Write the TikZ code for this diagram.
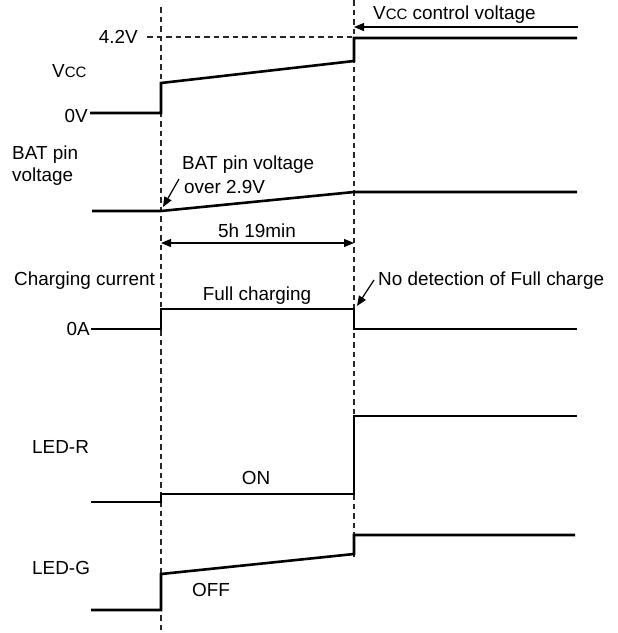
\documentclass[tikz,border=0pt]{standalone}
\usepackage{fontspec}
\setmainfont{Liberation Sans}
\usetikzlibrary{arrows.meta}
\begin{document}
\begin{tikzpicture}[x=1pt,y=-1pt,
  lbl/.style={inner sep=0pt, font=\fontsize{18.9}{22}\selectfont},
  wave/.style={line width=2.6pt, line join=miter, line cap=butt},
  guide/.style={line width=1.2pt, dash pattern=on 5.5pt off 4pt, black!85},
  callout/.style={line width=1.2pt, -{Triangle[length=10pt,width=8pt]}},
  dimline/.style={line width=1.2pt, {Triangle[length=10pt,width=8pt]}-{Triangle[length=10pt,width=8pt]}},
]
\newcommand{\sCC}{{\fontsize{15}{17}\selectfont CC}}
\useasboundingbox (0,0) rectangle (618,633);

% guide lines
\coordinate (g1t) at (161,7);
\coordinate (g1b) at (161,633);
\coordinate (g2t) at (354,0);
\coordinate (g2b) at (354,560);
\draw[guide] (g1t) -- (g1b);
\draw[guide] (g2t) -- (g2b);

% Vcc
\node[lbl, anchor=base east] (v42) at (138,43) {4.2V};
\coordinate (d42a) at (147,37);
\coordinate (d42b) at (354,37);
\draw[guide] (d42a) -- (d42b);
\node[lbl, anchor=base west] (vcc) at (52,77) {V\sCC};
\node[lbl, anchor=base east] (v0) at (88,122) {0V};
\coordinate (va) at (90,113);
\coordinate (vb) at (161,113);
\coordinate (vc) at (161,83);
\coordinate (vd) at (354,61);
\coordinate (ve) at (354,38);
\coordinate (vf) at (577,38);
\draw[wave] (va) -- (vb) -- (vc) -- (vd) -- (ve) -- (vf);
\node[lbl, anchor=base west] (vctl) at (373,19) {V\sCC{} control voltage};
\coordinate (vctla) at (578,27);
\coordinate (vctlb) at (354,27);
\draw[callout] (vctla) -- (vctlb);

% BAT pin voltage
\node[lbl, anchor=base west] (bat1) at (12,159) {BAT pin};
\node[lbl, anchor=base west] (bat2) at (12,181) {voltage};
\coordinate (ba) at (92,211);
\coordinate (bb) at (161,211);
\coordinate (bc) at (354,192);
\coordinate (bd) at (577,192);
\draw[wave] (ba) -- (bb) -- (bc) -- (bd);
\node[lbl, anchor=base west] (batn1) at (182,169) {BAT pin voltage};
\node[lbl, anchor=base west] (batn2) at (184,193) {over 2.9V};
\coordinate (bta) at (179,179);
\coordinate (btb) at (163,207);
\draw[callout] (bta) -- (btb);

% duration
\node[lbl, anchor=base] (dur) at (257,237) {5h 19min};
\coordinate (dma) at (161,243);
\coordinate (dmb) at (354,243);
\draw[dimline] (dma) -- (dmb);

% Charging current
\node[lbl, anchor=base west] (chg) at (14,285) {Charging current};
\node[lbl, anchor=base] (full) at (257,300) {Full charging};
\node[lbl, anchor=base west] (nodet) at (378,285) {No detection of Full charge};
\coordinate (nta) at (374,280);
\coordinate (ntb) at (357,306);
\draw[callout] (nta) -- (ntb);
\node[lbl, anchor=base east] (a0) at (90,335) {0A};
\coordinate (ca) at (91,329);
\coordinate (cb) at (161,329);
\coordinate (cc) at (161,309);
\coordinate (cd) at (354,309);
\coordinate (ce) at (354,329);
\coordinate (cf) at (577,329);
\draw[wave] (ca) -- (cb) -- (cc) -- (cd) -- (ce) -- (cf);

% LED-R
\node[lbl, anchor=base west] (ledr) at (32,453) {LED-R};
\node[lbl, anchor=base] (on) at (256,484) {ON};
\coordinate (ra) at (91,502);
\coordinate (rb) at (161,502);
\coordinate (rc) at (161,494);
\coordinate (rd) at (354,494);
\coordinate (re) at (354,416);
\coordinate (rf) at (577,416);
\draw[wave] (ra) -- (rb) -- (rc) -- (rd) -- (re) -- (rf);

% LED-G
\node[lbl, anchor=base west] (ledg) at (32,574) {LED-G};
\node[lbl, anchor=base] (off) at (211,596) {OFF};
\coordinate (ga) at (91,610);
\coordinate (gb) at (161,610);
\coordinate (gc) at (161,574);
\coordinate (gd) at (354,554);
\coordinate (ge) at (354,535);
\coordinate (gf) at (575,535);
\draw[wave] (ga) -- (gb) -- (gc) -- (gd) -- (ge) -- (gf);
\end{tikzpicture}
\end{document}
